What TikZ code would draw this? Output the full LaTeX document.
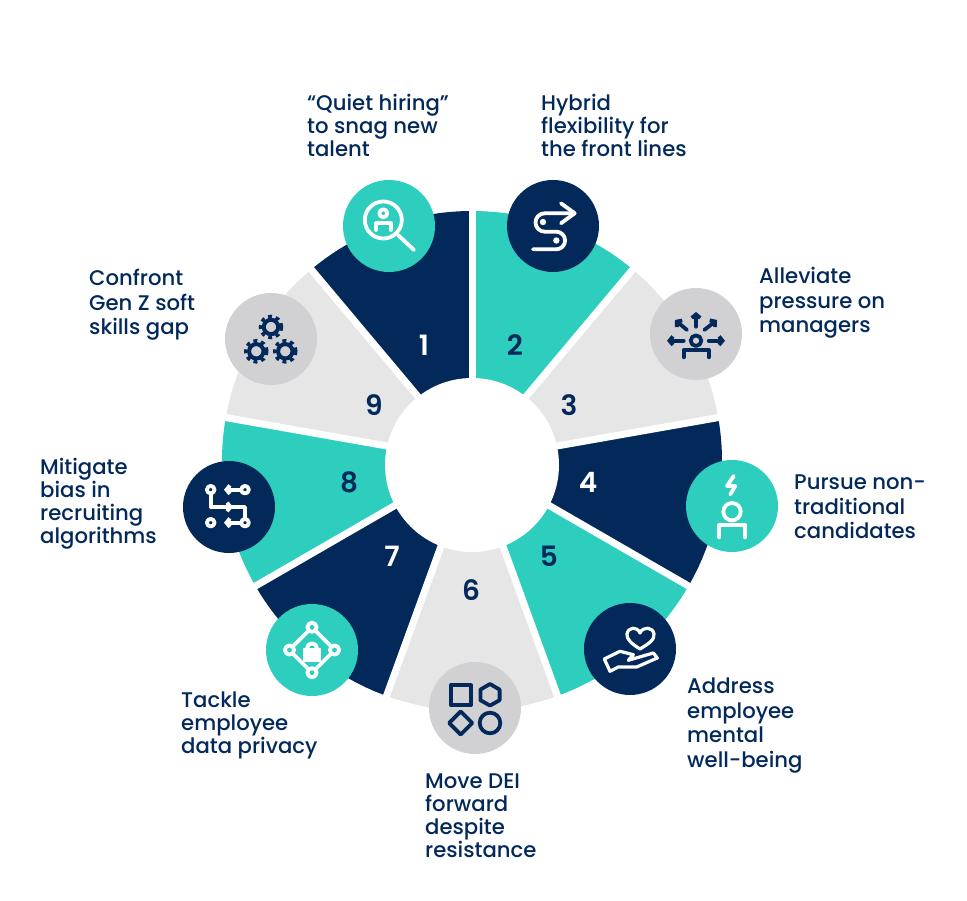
\documentclass[tikz,border=0pt]{standalone}
\usepackage{fontspec}
\setmainfont{Poppins Medium}
\newfontfamily\numfont{Poppins SemiBold}
\usepackage{tikz}
\usetikzlibrary{arrows.meta}
\definecolor{navy}{HTML}{03295B}
\definecolor{tealc}{HTML}{2DCEBD}
\definecolor{lightg}{HTML}{E6E6E6}
\definecolor{ballg}{HTML}{D1D1D3}
\tikzset{
  ball/.style={circle,minimum size=92pt,inner sep=0pt},
  numlab/.style={font=\fontsize{28}{28}\numfont},
  lab/.style={anchor=north west,align=left,inner sep=0pt,text=navy,font=\fontsize{21.2}{23}\selectfont},
  labwide/.style={lab,font=\fontsize{21.2}{24.5}\selectfont},
  iconw/.style={draw=white,line width=3.8pt,line cap=round,line join=round},
  iconn/.style={draw=navy,line width=3.8pt,line cap=round,line join=round},
  barb/.style={-{Straight Barb[length=3.5pt,width=8.5pt]}}
}
\begin{document}
\begin{tikzpicture}[x=1pt,y=1pt]
\useasboundingbox (0,0) rectangle (967,901);
% wheel
\begin{scope}[shift={(472,440)}]
\foreach \ang/\col in {90/navy,130/lightg,170/tealc,210/navy,250/lightg,290/tealc,330/navy,10/lightg,50/tealc}
  \fill[\col] (0,0) -- (\ang:250) arc[start angle=\ang,delta angle=40,radius=250] -- cycle;
\foreach \ang in {90,50,10,-30,-70,-110,-150,170,130}
  \draw[white,line width=7pt] (0,0) -- (\ang:256);
\fill[white] (0,-4) circle (87);
\end{scope}
% numbers
\node[numlab,text=white] (num1) at (424,556) {1};
\node[numlab,text=navy] (num2) at (515,556) {2};
\node[numlab,text=navy] (num3) at (569,496) {3};
\node[numlab,text=white] (num4) at (588,419) {4};
\node[numlab,text=navy] (num5) at (549,345) {5};
\node[numlab,text=navy] (num6) at (471,311) {6};
\node[numlab,text=white] (num7) at (392,345) {7};
\node[numlab,text=navy] (num8) at (349,419) {8};
\node[numlab,text=navy] (num9) at (374,496) {9};
% icon discs
\node[ball,fill=tealc] (ball1) at (389,675) {};
\node[ball,fill=navy] (ball2) at (553,675) {};
\node[ball,fill=ballg] (ball3) at (696,567) {};
\node[ball,fill=tealc] (ball4) at (732,395) {};
\node[ball,fill=navy] (ball5) at (630,252) {};
\node[ball,fill=ballg] (ball6) at (475,193) {};
\node[ball,fill=tealc] (ball7) at (312,251) {};
\node[ball,fill=navy] (ball8) at (229,394) {};
\node[ball,fill=ballg] (ball9) at (271,562) {};
% magnifier
\begin{scope}[shift={(ball1)},iconw]
\draw (-5.7,6) circle (18.5);
\draw (9,-9) -- (25,-24);
\draw (-5.7,12.7) circle (4);
\draw (-13,-4) -- (-13,3) -- (1.7,3) -- (1.7,-4);
\end{scope}
% winding road
\begin{scope}[shift={(ball2)},iconw]
\draw (21,12.7) -- (-8.3,12.7) arc[start angle=90,delta angle=180,radius=9.2] -- (3.3,-5.7) arc[start angle=90,delta angle=-180,radius=8.8] -- (-20,-23.3);
\draw (8,22.7) -- (21.7,12.7) -- (8,2.7);
\fill[white] (-10,4) circle (3.2);
\fill[white] (3.3,-14.5) circle (3.2);
\end{scope}
% person with outgoing arrows
\begin{scope}[shift={(ball3)},iconn]
\draw (0,-6.7) circle (5.3);
\draw (-12.3,-23.3) -- (-12.3,-16) -- (12.7,-16) -- (12.7,-23.3);
\draw[barb] (0,7.3) -- (0,22);
\draw[barb] (-9,4) -- (-21,14);
\draw[barb] (8.3,4) -- (21,14);
\draw[barb] (-12.3,-6.7) -- (-29,-6.7);
\draw[barb] (12.7,-6.7) -- (29,-6.7);
\end{scope}
% person with bolt
\begin{scope}[shift={(ball4)},iconw]
\draw (1.7,30) -- (-5,20) -- (3.3,20) -- (-1.7,11.7);
\draw (0,-5.7) circle (8.7);
\draw (-12.7,-31.3) -- (-12.7,-19) -- (13.3,-19) -- (13.3,-31.3);
\end{scope}
% hand and heart
\begin{scope}[shift={(ball5)},iconw,line width=3.2pt]
\draw (10,0) .. controls (2,5) and (-4,10) .. (-3,15) .. controls (-2,22) and (7,23) .. (10,16) .. controls (13,23) and (23,22) .. (24,15) .. controls (25,9) and (18,5) .. (10,0) -- cycle;
\draw (-25.7,-10) -- (-10,-2.3) -- (3.3,-5.7) -- (-1.7,-11.3) -- (23.3,-4) -- (27.3,-9) -- (6.7,-18) -- (-11.7,-18) -- (-20,-22.3) -- cycle;
\end{scope}
% four shapes
\begin{scope}[shift={(ball6)},iconn]
\draw (-24.3,22.6) rectangle (-4,2.9);
\draw (15,24) -- (24.6,18.4) -- (24.6,7.8) -- (15,2.4) -- (5.4,7.8) -- (5.4,18.4) -- cycle;
\draw (-14.3,-3.4) -- (-2.7,-15) -- (-14.3,-26.6) -- (-25.9,-15) -- cycle;
\draw (15,-15) circle (10.3);
\end{scope}
% lock in network
\begin{scope}[shift={(ball7)},iconw]
\foreach \px/\py in {0/22.7,0/-22.7,-22.5/0,22.5/0}
  \draw (\px,\py) circle (4.6);
\draw (4.2,18.5) -- (18.5,4.2);
\draw (18.5,-4.2) -- (4.2,-18.5);
\draw (-4.2,-18.5) -- (-18.5,-4.2);
\draw (-18.5,4.2) -- (-4.2,18.5);
\fill[white] (-9,-11.7) rectangle (9,1.7);
\draw (-5,1.7) arc[start angle=180,end angle=0,radius=5];
\end{scope}
% routing paths
\begin{scope}[shift={(ball8)},iconw]
\foreach \px/\py in {-18.3/17.3,16/17.3,-18.3/-15.7,16/-15.7}
  \draw (\px,\py) circle (3.8);
\draw[barb] (11,17.3) -- (-5,17.3);
\draw[barb] (11,-15.7) -- (-5,-15.7);
\draw[barb] (-18.3,12.3) -- (-18.3,0) -- (4,0);
\draw (-4,0) -- (16,0) -- (16,-10.7);
\end{scope}
% gears
\begin{scope}[shift={(ball9)}]
\foreach \px/\py in {0/12,-14.7/-12.3,14.3/-12.3} {
  \draw[navy,line width=4pt] (\px,\py) circle (7.2);
  \draw[navy,line width=3.4pt,dash pattern=on 3.9pt off 3.9pt] (\px,\py) circle (10.6);
}
\end{scope}
% labels
\node[lab] (lab1) at (307,807) {“Quiet hiring”\\to snag new\\talent};
\node[lab] (lab2) at (541,807) {Hybrid\\flexibility for\\the front lines};
\node[labwide] (lab3) at (759,634) {Alleviate\\pressure on\\managers};
\node[labwide] (lab4) at (794,426) {Pursue non-\\traditional\\candidates};
\node[labwide] (lab5) at (687,223) {Address\\employee\\mental\\well-being};
\node[lab] (lab6) at (425,127) {Move DEI\\forward\\despite\\resistance};
\node[lab] (lab7) at (181,209) {Tackle\\employee\\data privacy};
\node[lab] (lab8) at (40,443) {Mitigate\\bias in\\recruiting\\algorithms};
\node[labwide] (lab9) at (89,632) {Confront\\Gen Z soft\\skills gap};
\end{tikzpicture}
\end{document}
